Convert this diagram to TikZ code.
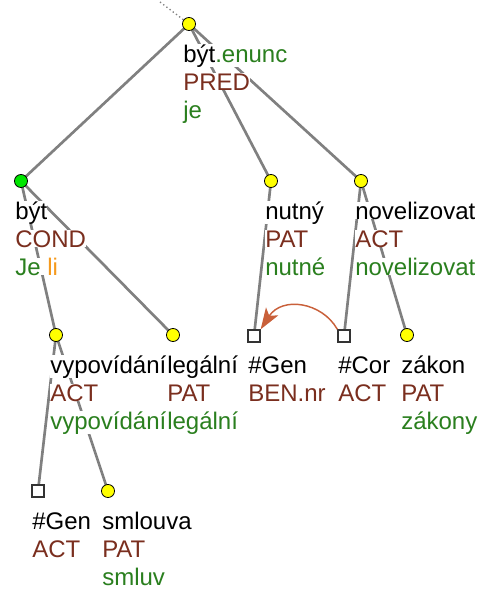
\documentclass[tikz,border=0pt]{standalone}
\usepackage{fontspec}
\setmainfont{Liberation Sans}
\usetikzlibrary{arrows.meta}
\definecolor{functor}{HTML}{7A2E1E}
\definecolor{form}{HTML}{2A7F1E}
\definecolor{aux}{HTML}{F59A1E}
\definecolor{edgegray}{HTML}{808080}
\definecolor{coref}{HTML}{C9603A}
\definecolor{nodeyellow}{HTML}{FFFF00}
\definecolor{nodegreen}{HTML}{00E600}
\pgfdeclarelayer{edges}
\pgfsetlayers{edges,main}
\begin{document}
\begin{tikzpicture}[x=0.75pt,y=-0.75pt,
  tnode/.style={circle,draw=black,line width=0.6pt,fill=nodeyellow,minimum size=9.8pt,inner sep=0pt},
  qnode/.style={rectangle,draw=black!80,line width=1pt,fill=white,minimum size=9pt,inner sep=0pt},
  lbl/.style={anchor=base west,inner sep=0pt,fill=white,font=\fontsize{18}{21}\selectfont},
  treeedge/.style={draw=edgegray,line width=2pt},
]
\useasboundingbox (0,0) rectangle (480,589);

% tree nodes
\node[tnode] (root) at (189,24) {};
\node[tnode,fill=nodegreen] (cond) at (21,181) {};
\node[tnode] (nutny) at (271,181) {};
\node[tnode] (novel) at (361,181) {};
\node[tnode] (vypov) at (56,335) {};
\node[tnode] (legal) at (173,335) {};
\node[qnode] (genben) at (254,336) {};
\node[qnode] (cor) at (344,336) {};
\node[tnode] (zakon) at (407,335) {};
\node[qnode] (genact) at (38,491) {};
\node[tnode] (smlouva) at (108,491) {};
\coordinate (up) at (160,2);

% edges, kept behind nodes and labels
\begin{pgfonlayer}{edges}
\draw[edgegray,line width=1pt,dotted] (up) -- (root.center);
\draw[treeedge] (root.center) -- (cond.center);
\draw[treeedge] (root.center) -- (nutny.center);
\draw[treeedge] (root.center) -- (novel.center);
\draw[treeedge] (cond.center) -- (vypov.center);
\draw[treeedge] (cond.center) -- (legal.center);
\draw[treeedge] (nutny.center) -- (genben.center);
\draw[treeedge] (novel.center) -- (cor.center);
\draw[treeedge] (novel.center) -- (zakon.center);
\draw[treeedge] (vypov.center) -- (genact.center);
\draw[treeedge] (vypov.center) -- (smlouva.center);
\end{pgfonlayer}

% labels: lemma, functor, word form
\node[lbl] (root-a) at (183,62) {být\textcolor{form}{.enunc}};
\node[lbl,text=functor] (root-b) at (183,90) {PRED};
\node[lbl,text=form] (root-c) at (183,118) {je};

\node[lbl] (cond-a) at (15,219) {být};
\node[lbl,text=functor] (cond-b) at (15,247) {COND};
\node[lbl,text=form] (cond-c) at (15,275) {Je \textcolor{aux}{li}};

\node[lbl] (nutny-a) at (265,219) {nutný};
\node[lbl,text=functor] (nutny-b) at (265,247) {PAT};
\node[lbl,text=form] (nutny-c) at (265,275) {nutné};

\node[lbl] (novel-a) at (355,219) {novelizovat};
\node[lbl,text=functor] (novel-b) at (355,247) {ACT};
\node[lbl,text=form] (novel-c) at (355,275) {novelizovat};

\node[lbl] (vypov-a) at (50,373) {vypovídání};
\node[lbl,text=functor] (vypov-b) at (50,401) {ACT};
\node[lbl,text=form] (vypov-c) at (50,429) {vypovídání};

\node[lbl] (legal-a) at (167,373) {legální};
\node[lbl,text=functor] (legal-b) at (167,401) {PAT};
\node[lbl,text=form] (legal-c) at (167,429) {legální};

\node[lbl] (genben-a) at (248,373) {\#Gen};
\node[lbl,text=functor] (genben-b) at (248,401) {BEN.nr};

\node[lbl] (cor-a) at (338,373) {\#Cor};
\node[lbl,text=functor] (cor-b) at (338,401) {ACT};

\node[lbl] (zakon-a) at (401,373) {zákon};
\node[lbl,text=functor] (zakon-b) at (401,401) {PAT};
\node[lbl,text=form] (zakon-c) at (401,429) {zákony};

\node[lbl] (genact-a) at (32,529) {\#Gen};
\node[lbl,text=functor] (genact-b) at (32,557) {ACT};

\node[lbl] (smlouva-a) at (102,529) {smlouva};
\node[lbl,text=functor] (smlouva-b) at (102,557) {PAT};
\node[lbl,text=form] (smlouva-c) at (102,585) {smluv};

% coreference arrow
\draw[coref,line width=1.1pt,-{Stealth[length=16pt,width=11pt,inset=4pt]}]
  (cor.north west) .. controls (322,302) and (282,296) .. (genben.north east);
\end{tikzpicture}
\end{document}
